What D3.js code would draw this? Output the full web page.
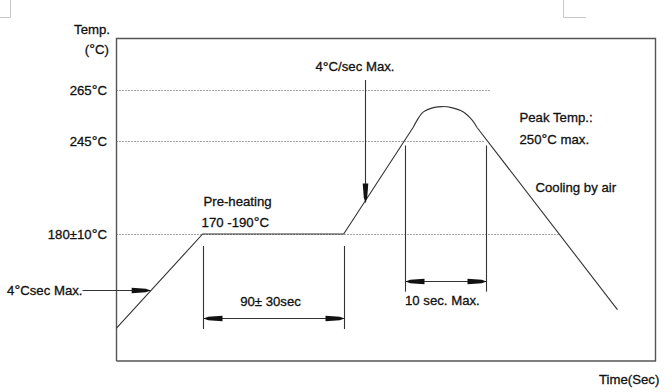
<!DOCTYPE html>
<html><head><meta charset="utf-8">
<script src="https://cdn.jsdelivr.net/npm/d3@7"></script>
<style>
html,body{margin:0;padding:0;background:#fff;}
svg{display:block;font-family:"Liberation Sans",Arial,sans-serif;}
text{fill:#111;stroke:#111;stroke-width:0.3px;font-size:13.2px;}
</style></head>
<body>
<svg id="c" width="671" height="392"></svg>
<script>
// ---- data (time in sec, temperature in °C) ----
const profileTime = [0, 55, 145, 189.5, 191.9, 195.9, 202.3, 208, 213.8, 221.4, 227, 230.1, 319.7];
const profileTemp = [114, 180, 180, 250.5, 253.2, 256.4, 258.1, 258.5, 258.1, 256.4, 253.2, 250.3, 127];
const capStart = 3, capEnd = 11;

const refTemps = [265, 245, 180];
const refLabels = ["265°C", "245°C", "180±10°C"];
const refEndTime = [238.7, 235.5, 282];

// dimension annotations
const preheatLines = [55, 145];
const preheatSpan = [171.6, 113.4];
const preheatArrowTemp = 120.9;
const peakLines = [184, 236];
const peakSpan = [241.9, 139.6];
const peakArrowTemp = 146.9;
const rampArrow = {t: 158.3, from: 268.9, to: 202};
const leftArrow = {T: 140.8, from: -21.7, to: 21.8};

const texts = [
  {t: 55.5, T: 199.5, s: "Pre-heating", a: "start"},
  {t: 54.3, T: 185, s: "170 -190°C", a: "start"},
  {t: 98.3, T: 129.2, s: "90± 30sec", a: "middle"},
  {t: 152.2, T: 272.3, s: "4°C/sec Max.", a: "middle"},
  {t: 257.2, T: 252.3, s: "Peak Temp.:", a: "start"},
  {t: 257.2, T: 243.2, s: "250°C max.", a: "start"},
  {t: 267.4, T: 209.3, s: "Cooling by air", a: "start"},
  {t: 208, T: 129.9, s: "10 sec. Max.", a: "middle"},
  {t: -21.7, T: 137.6, s: "4°Csec Max.", a: "end"}
];

// ---- layout ----
const svg = d3.select("#c");
const L = 116.5, R = 655.5, T0 = 38.5, B = 361;
const x = d3.scaleLinear().domain([0, 344]).range([L, R]);
const y = d3.scaleLinear().domain([91, 180, 245, 265, 285]).range([B, 234, 141, 90, 39]);

function label(px, py, s, anchor) {
  const t = svg.append("text").attr("x", px).attr("y", py).attr("text-anchor", anchor);
  const parts = s.split("°");
  parts.forEach((p, i) => {
    if (i > 0) {
      t.append("tspan").attr("dy", 0.5).style("font-size", "14.5px").text("°");
      t.append("tspan").attr("dy", -0.5).text(p);
    } else if (p.length) {
      t.append("tspan").text(p);
    }
  });
  return t;
}

// crop marks
svg.append("path").attr("d", "M10.5,0V17.5H0").attr("fill","none").attr("stroke","#c8c8c8");
svg.append("path").attr("d", "M563.5,0V17.5H586").attr("fill","none").attr("stroke","#c8c8c8");

// reference dotted lines
refTemps.forEach((v, i) => {
  svg.append("line").attr("x1", x(0)).attr("x2", x(refEndTime[i]))
    .attr("y1", Math.round(y(v)) + 0.5).attr("y2", Math.round(y(v)) + 0.5)
    .attr("stroke", "#444").attr("stroke-width", 1).attr("stroke-dasharray", "1,2");
  label(107, y(v) + 4.8, refLabels[i], "end");
});

// frame
svg.append("path").attr("d", `M${L},${B}V${T0}H${R}V${B}H${L}`)
  .attr("fill", "none").attr("stroke", "#555").attr("stroke-width", 1.4);

// profile
const pts = profileTime.map((t, i) => [x(t), y(profileTemp[i])]);
const lin = d3.line();
const cap = d3.line().curve(d3.curveCatmullRom.alpha(0.5));
const drawPath = (d) => svg.append("path").attr("d", d).attr("fill", "none")
  .attr("stroke", "#333").attr("stroke-width", 1.1);
drawPath(lin(pts.slice(0, capStart + 1)));
drawPath(cap(pts.slice(capStart, capEnd + 1)));
drawPath(lin(pts.slice(capEnd)));

// arrowhead helper
function arrowHead(px, py, angle) {
  const len = 19, hw = 2.8;
  const p = `M0,0L${-len * 0.25},${-hw * 0.6}L${-len},${-hw}L${-len},${hw}L${-len * 0.25},${hw * 0.6}Z`;
  svg.append("path").attr("d", p).attr("fill", "#111")
    .attr("transform", `translate(${px},${py}) rotate(${angle})`);
}
function seg(x1, y1, x2, y2) {
  svg.append("line").attr("x1", x1).attr("y1", y1).attr("x2", x2).attr("y2", y2)
    .attr("stroke", "#333").attr("stroke-width", 1.1);
}

// preheat dimension
preheatLines.forEach(t => seg(Math.round(x(t)) + 0.5, y(preheatSpan[0]), Math.round(x(t)) + 0.5, y(preheatSpan[1])));
{
  const ay = Math.round(y(preheatArrowTemp)) + 0.5;
  const a = Math.round(x(preheatLines[0])) + 0.5, b = Math.round(x(preheatLines[1])) + 0.5;
  seg(a, ay, b, ay); arrowHead(a, ay, 180); arrowHead(b, ay, 0);
}
// peak dimension
peakLines.forEach(t => seg(Math.round(x(t)) + 0.5, y(peakSpan[0]), Math.round(x(t)) + 0.5, y(peakSpan[1])));
{
  const ay = Math.round(y(peakArrowTemp)) + 0.5;
  const a = Math.round(x(peakLines[0])) + 0.5, b = Math.round(x(peakLines[1])) + 0.5;
  seg(a, ay, b, ay); arrowHead(a, ay, 180); arrowHead(b, ay, 0);
}
// ramp arrow (vertical)
{
  const ax = Math.round(x(rampArrow.t)) + 0.5;
  seg(ax, y(rampArrow.from), ax, y(rampArrow.to));
  arrowHead(ax, y(rampArrow.to), 90);
}
// left arrow
{
  const ay = Math.round(y(leftArrow.T)) + 0.5;
  seg(x(leftArrow.from), ay, x(leftArrow.to), ay);
  arrowHead(x(leftArrow.to), ay, 0);
}

// texts
texts.forEach(d => label(x(d.t), y(d.T), d.s, d.a));

// axis titles
label(110, 33.5, "Temp.", "end");
label(109, 53.5, "(°C)", "end");
label(599, 384, "Time(Sec)", "start");
</script>
</body></html>
